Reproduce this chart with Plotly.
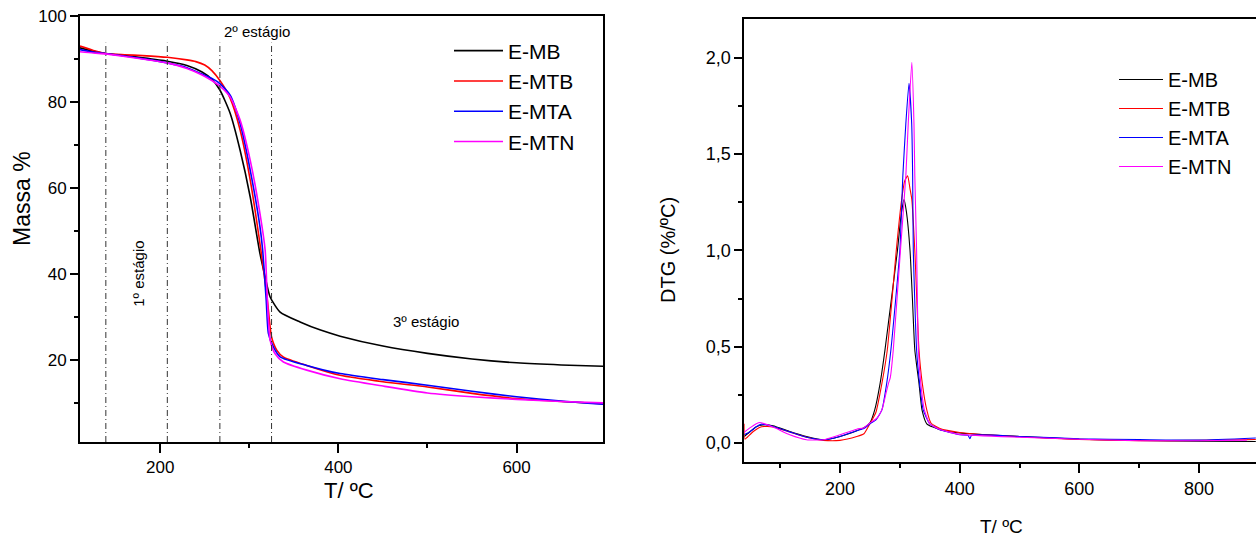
import plotly.graph_objects as go

# ---------------- data: TGA (left) ----------------
names = ["E-MB", "E-MTB", "E-MTA", "E-MTN"]
colors = ["#000000", "#ff0000", "#0000ff", "#ff00ff"]

tga_mb_T = [110, 125, 139, 160, 180, 208, 230, 247, 258, 267, 278.5, 289.7, 301, 312, 317.8, 323.4, 334.6, 357, 380, 402, 450, 500, 550, 600, 650, 697]
tga_mb_m = [92.6, 91.8, 91.3, 90.8, 90.3, 89.5, 88.5, 87.0, 85.3, 82.8, 77.4, 68.8, 58.0, 44.8, 39.4, 34.7, 31.2, 28.9, 27.0, 25.6, 23.3, 21.6, 20.3, 19.4, 18.9, 18.6]

tga_mtb_T = [110, 125, 139, 160, 180, 208, 230, 240, 250, 258, 267, 278.5, 289.7, 301, 313, 320.3, 325, 331, 338, 364.5, 402, 450, 500, 550, 600, 650, 697]
tga_mtb_m = [93.0, 92.0, 91.3, 91.0, 90.8, 90.4, 89.8, 89.4, 88.6, 87.3, 85.0, 80.9, 73.5, 61.9, 45.6, 34.0, 25.4, 22.3, 20.8, 18.8, 16.5, 15.0, 13.8, 12.3, 11.1, 10.4, 9.9]

tga_mta_T = [110, 125, 139, 160, 180, 208, 230, 247, 258, 267, 278.5, 289.7, 301, 312, 315, 319, 321.5, 327, 334.6, 364.5, 402, 450, 500, 550, 600, 650, 697]
tga_mta_m = [92.2, 91.6, 91.3, 90.7, 90.1, 89.1, 88.0, 86.5, 85.5, 84.3, 81.6, 75.0, 64.2, 51.0, 45.6, 34.0, 26.2, 23.1, 20.8, 18.8, 16.9, 15.5, 14.2, 12.8, 11.5, 10.5, 9.8]

tga_mtn_T = [110, 125, 139, 160, 180, 208, 230, 247, 258, 267, 278.5, 289.7, 301, 312, 317.8, 320.3, 323.4, 329, 338.3, 364.5, 402, 450, 500, 550, 600, 650, 697]
tga_mtn_m = [91.7, 91.4, 91.2, 90.6, 90.0, 89.1, 87.8, 86.3, 85.0, 83.7, 81.2, 75.8, 66.5, 54.1, 45.6, 34.0, 24.7, 21.5, 19.6, 17.7, 15.7, 14.0, 12.4, 11.5, 10.9, 10.4, 10.1]

stage_T = [139, 208, 267, 325]
stage_top = 93.8

# ---------------- data: DTG (right) ----------------
dtg_mb_T = [40, 50, 60, 71, 88, 116, 144, 172, 200, 228, 240, 250, 258, 267, 275, 286, 296, 302, 307, 311, 317, 321, 325, 332, 337, 345, 367, 400, 500, 600, 700, 800, 895]
dtg_mb_v = [0.034, 0.06, 0.085, 0.094, 0.09, 0.06, 0.034, 0.017, 0.034, 0.064, 0.08, 0.105, 0.172, 0.31, 0.48, 0.75, 1.0, 1.18, 1.264, 1.2, 1.0, 0.75, 0.483, 0.31, 0.172, 0.10, 0.069, 0.052, 0.034, 0.02, 0.013, 0.010, 0.008]

dtg_mtb_T = [40, 41, 45, 55, 69, 88, 116, 144, 172, 200, 228, 240, 250, 260, 270, 279, 287, 294, 303, 308, 313, 317, 320, 325, 332, 337.5, 345, 352, 367, 400, 500, 600, 700, 800, 895]
dtg_mtb_v = [0.10, 0.02, 0.03, 0.06, 0.085, 0.083, 0.057, 0.03, 0.014, 0.014, 0.034, 0.048, 0.10, 0.16, 0.31, 0.483, 0.75, 1.0, 1.264, 1.36, 1.387, 1.32, 1.264, 1.0, 0.483, 0.31, 0.172, 0.104, 0.075, 0.055, 0.033, 0.018, 0.012, 0.014, 0.018]

dtg_mta_T = [40, 50, 60, 69, 88, 116, 144, 172, 200, 228, 240, 250, 260, 270, 278, 285, 300, 305, 310, 315.3, 319.8, 321.4, 322.5, 328, 333, 339, 350, 367, 400, 414, 417, 420, 500, 600, 700, 800, 895]
dtg_mta_v = [0.043, 0.06, 0.085, 0.098, 0.086, 0.058, 0.03, 0.017, 0.034, 0.064, 0.075, 0.10, 0.12, 0.172, 0.31, 0.483, 1.0, 1.387, 1.658, 1.868, 1.658, 1.387, 1.0, 0.483, 0.31, 0.172, 0.10, 0.069, 0.043, 0.04, 0.022, 0.04, 0.034, 0.022, 0.018, 0.015, 0.026]

dtg_mtn_T = [40, 50, 60, 66, 88, 116, 144, 172, 200, 228, 240, 250, 262, 270, 277, 281, 284, 289, 301, 310, 314, 320, 323.6, 325, 328, 331, 335, 341, 350, 367, 400, 500, 600, 700, 800, 880]
dtg_mtn_v = [0.056, 0.08, 0.10, 0.107, 0.083, 0.043, 0.017, 0.017, 0.043, 0.072, 0.08, 0.104, 0.13, 0.172, 0.26, 0.31, 0.34, 0.483, 1.0, 1.387, 1.658, 1.977, 1.658, 1.387, 1.0, 0.483, 0.31, 0.172, 0.10, 0.07, 0.045, 0.03, 0.02, 0.012, 0.012, 0.015]

tga_T = [tga_mb_T, tga_mtb_T, tga_mta_T, tga_mtn_T]
tga_m = [tga_mb_m, tga_mtb_m, tga_mta_m, tga_mtn_m]
dtg_T = [dtg_mb_T, dtg_mtb_T, dtg_mta_T, dtg_mtn_T]
dtg_v = [dtg_mb_v, dtg_mtb_v, dtg_mta_v, dtg_mtn_v]

FONT = "Arial, Liberation Sans, Helvetica, sans-serif"
W, H = 1256, 540

fig = go.Figure()
for i in range(4):
    fig.add_trace(go.Scatter(x=tga_T[i], y=tga_m[i], mode="lines", name=names[i],
                             line=dict(color=colors[i], width=1.6, shape="spline", smoothing=0.6),
                             xaxis="x", yaxis="y", legend="legend"))
for i in range(4):
    fig.add_trace(go.Scatter(x=dtg_T[i], y=dtg_v[i], mode="lines", name=names[i],
                             line=dict(color=colors[i], width=1.1, shape="spline", smoothing=0.5),
                             xaxis="x2", yaxis="y2", legend="legend2"))

for t in stage_T:
    fig.add_shape(type="line", xref="x", yref="y", x0=t, x1=t, y0=1, y1=stage_top,
                  line=dict(color="#333333", width=1, dash="6px,3px,1px,3px"))

def px_x(p):
    return p / W

def px_y(p):
    return (H - p) / H

axis_common = dict(showgrid=False, zeroline=False, showline=True, linecolor="black",
                   linewidth=2, ticks="outside", tickcolor="black", tickwidth=1.5,
                   ticklen=8, automargin=False)

fig.update_layout(
    width=W, height=H, margin=dict(l=0, r=0, t=0, b=0, pad=0, autoexpand=False),
    paper_bgcolor="white", plot_bgcolor="white",
    separators=",.",
    font=dict(family=FONT, color="black"),
    xaxis=dict(domain=[px_x(80), px_x(603)], range=[110, 697], anchor="y",
               tickvals=[200, 400, 600], mirror=True,
               minor=dict(tickvals=[300, 500], ticks="outside", ticklen=4, tickcolor="black", tickwidth=1.5),
               tickfont=dict(family=FONT, color="black", size=17),
               **{**axis_common, "ticklen": 9}),
    yaxis=dict(domain=[px_y(442), px_y(16)], range=[1, 100], anchor="x",
               tickvals=[20, 40, 60, 80, 100], mirror=True,
               minor=dict(tickvals=[10, 30, 50, 70, 90], ticks="outside", ticklen=4, tickcolor="black", tickwidth=1.5),
               tickfont=dict(family=FONT, color="black", size=17),
               **axis_common),
    xaxis2=dict(domain=[px_x(744.3), 1.0], range=[40, 895.3], anchor="y2",
                tickvals=[200, 400, 600, 800], mirror=True,
                minor=dict(tickvals=[100, 300, 500, 700], ticks="outside", ticklen=4, tickcolor="black", tickwidth=1.5),
                tickfont=dict(family=FONT, color="black", size=18),
                **{**axis_common, "ticklen": 9}),
    yaxis2=dict(domain=[px_y(462.3), px_y(19.3)], range=[-0.1, 2.2], anchor="x2",
                tickvals=[0, 0.5, 1.0, 1.5, 2.0], tickformat=".1f", mirror=False,
                minor=dict(tickvals=[0.25, 0.75, 1.25, 1.75], ticks="outside", ticklen=4, tickcolor="black", tickwidth=1.5),
                tickfont=dict(family=FONT, color="black", size=18),
                **axis_common),
    legend=dict(x=px_x(449), y=px_y(30.5), xanchor="left", yanchor="top",
                font=dict(family=FONT, size=21, color="black"), bgcolor="rgba(0,0,0,0)",
                itemwidth=49, tracegroupgap=0),
    legend2=dict(x=px_x(1114), y=px_y(60), xanchor="left", yanchor="top",
                 font=dict(family=FONT, size=20, color="black"), bgcolor="rgba(0,0,0,0)",
                 itemwidth=44, tracegroupgap=0),
    showlegend=True,
)

annotations = [
    dict(text="Massa %", x=px_x(22), y=px_y(199), xref="paper", yref="paper", textangle=-90,
         xanchor="center", yanchor="middle", showarrow=False, font=dict(size=23)),
    dict(text="T/ ºC", x=px_x(349), y=px_y(490), xref="paper", yref="paper",
         xanchor="center", yanchor="middle", showarrow=False, font=dict(size=22)),
    dict(text="DTG (%/ºC)", x=px_x(668), y=px_y(250), xref="paper", yref="paper", textangle=-90,
         xanchor="center", yanchor="middle", showarrow=False, font=dict(size=20)),
    dict(text="T/ ºC", x=px_x(1001), y=px_y(526), xref="paper", yref="paper",
         xanchor="center", yanchor="middle", showarrow=False, font=dict(size=19)),
    dict(text="2º estágio", x=308.4, y=96.5, xref="x", yref="y", xanchor="center", yanchor="middle",
         showarrow=False, font=dict(size=15)),
    dict(text="1º estágio", x=175.7, y=40, xref="x", yref="y", textangle=-90, xanchor="center",
         yanchor="middle", showarrow=False, font=dict(size=15)),
    dict(text="3º estágio", x=498.3, y=28.9, xref="x", yref="y", xanchor="center", yanchor="middle",
         showarrow=False, font=dict(size=15)),
]
fig.update_layout(annotations=annotations)

fig.write_html("out.html", config={"displayModeBar": False},
               post_script="document.body.style.margin='0';")
